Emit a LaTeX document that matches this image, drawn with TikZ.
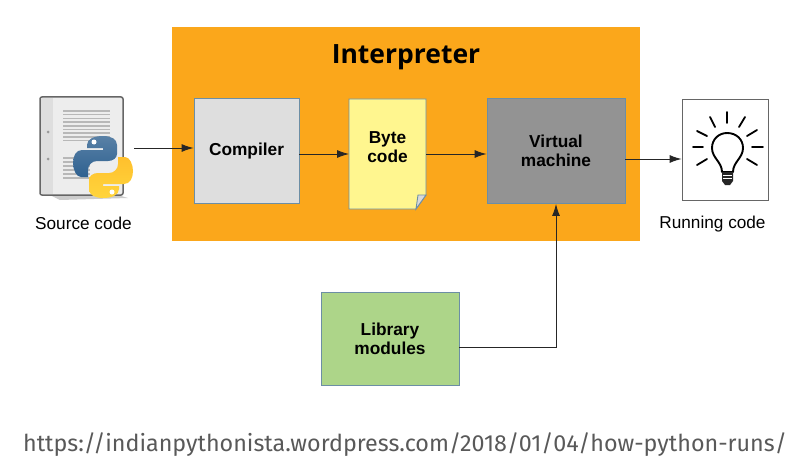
\documentclass[tikz,border=0pt]{standalone}
\usetikzlibrary{arrows.meta}
\usepackage{fontspec}
\setmainfont{Liberation Sans}
\newfontfamily\titlefont{Open Sans}
\newfontfamily\urlfont{Fira Sans}
\definecolor{interporange}{HTML}{FBA71B}
\definecolor{boxedge}{HTML}{6C8EA5}
\definecolor{compilergray}{HTML}{DEDEDE}
\definecolor{noteyellow}{HTML}{FFF68F}
\definecolor{vmgray}{HTML}{939393}
\definecolor{libgreen}{HTML}{ADD589}
\definecolor{pyblue}{HTML}{2F6190}
\definecolor{pyyellow}{HTML}{FFD53C}
\tikzset{
    blockbox/.style={draw=boxedge,line width=0.9pt,font=\fontsize{17.3}{19}\selectfont\bfseries,align=center,inner sep=0pt},
    caption/.style={font=\fontsize{17.2}{20}\selectfont},
    conn/.style={-{Latex[length=12pt,width=8pt]},line width=0.9pt,black!85},
    ray/.style={line width=1.8pt,line cap=round},
    docline/.style={line width=1.5pt,black!28},
    snake/.pic={
        \path [pic actions] (-16,-22) .. controls (-16,-28) and (-9,-31) .. (0,-31) .. controls (8,-31) and (14,-28) .. (14,-22) -- (14,-13) .. controls (14,-9) and (10,-6) .. (5,-6) -- (-6,-6) .. controls (-11,-6) and (-15,-2) .. (-15,3) -- (-15,10) -- (-22,10) .. controls (-27,10) and (-30,2) .. (-30,-4) .. controls (-30,-11) and (-27,-17) .. (-21,-17) -- (0,-17) -- (0,-19) -- (-16,-19) -- cycle;
        \fill [white] (-9,-25) circle (2.5pt);
    }
}
\begin{document}
\begin{tikzpicture}[x=1pt,y=-1pt]
    \useasboundingbox (0,0) rectangle (797,468);
    \fill [white] (0,0) rectangle (797,468);
    \node [fill=interporange,minimum width=468pt,minimum height=214pt,inner sep=0pt] (interp) at (406,134) {};
    \node [font=\titlefont\fontsize{26.5}{30}\selectfont\bfseries] (interptitle) at (406,57) {Interpreter};
    % source file icon
    \fill [black!20] (50,195) -- (118,195) -- (128,198) -- (60,200) -- cycle;
    \draw [draw=black!60,line width=1.5pt,rounded corners=2pt,fill=black!7] (40,97) rectangle (123,195);
    \fill [black!13] (41,98) rectangle (53,194);
    \foreach \y in {111,114.7,...,143} \draw [docline] (63,\y) -- (110,\y);
    \foreach \y in {158,162,...,178} \draw [docline] (63,\y) -- (90,\y);
    \fill [black!40] (48,132) circle (1.5pt) (48,159) circle (1.5pt);
    % python logo
    \pic [bottom color=pyblue,top color=pyblue!80!white] at (103,167) {snake};
    \pic [rotate=180,top color=pyyellow!75!orange,bottom color=pyyellow] at (103,167) {snake};
    \coordinate (source) at (134,148);
    \node [caption] (sourcelabel) at (83.5,223) {Source code};
    % boxes
    \node [blockbox,fill=compilergray,minimum width=105pt,minimum height=105pt] (compiler) at (246.5,151) {Compiler};
    \draw [draw=boxedge,line width=0.9pt,fill=noteyellow] (349,99) -- (426,99) -- (426,195) -- (416,209) -- (349,209) -- cycle;
    \draw [draw=boxedge,line width=0.9pt,fill=black!15] (426,195) -- (418,195) -- (416,209) -- cycle;
    \node [font=\fontsize{17.3}{19}\selectfont\bfseries,align=center,minimum width=77pt,minimum height=110pt,inner sep=0pt] (byte) at (387.5,147) {Byte\\code};
    \node [blockbox,fill=vmgray,minimum width=138pt,minimum height=105pt] (vm) at (556,151) {Virtual\\machine};
    \node [blockbox,fill=libgreen,minimum width=138pt,minimum height=93pt] (library) at (390,338.5) {Library\\modules};
    \node [draw=black!60,line width=0.9pt,fill=white,minimum width=86pt,minimum height=101pt,inner sep=0pt] (bulb) at (725,149.5) {};
    \foreach \a/\b/\c/\d in {727/112/727/123,693/147/703/147,752/147/763/147,710/117/715/127,745/117/739/127,697/131/707/136,757/130/747/136,697/165/707/159,757/165/747/159}
        \draw [ray] (\a,\b) -- (\c,\d);
    \draw [line width=1.9pt,line join=round] (722,172) .. controls (722,162) and (712,158) .. (712,148) .. controls (712,139) and (719,133) .. (727,133) .. controls (736,133) and (743,139) .. (743,148) .. controls (743,158) and (733,162) .. (733,172) -- cycle;
    \fill [black!85] (722,172) -- (733,172) -- (733,181) -- (730,185) -- (725,185) -- (722,181) -- cycle;
    \draw [white,line width=0.7pt] (723,175) -- (732,175) (723,178) -- (732,178);
    \node [caption] (bulblabel) at (712.5,224) {Running code};
    % connectors
    \coordinate (bytein) at (349,154);
    \coordinate (byteout) at (426,154);
    \coordinate (vmout) at (625,159);
    \coordinate (libout) at (459,347);
    \draw [conn] (source) -- (source -| compiler.west);
    \draw [conn] (bytein -| compiler.east) -- (bytein);
    \draw [conn] (byteout) -- (byteout -| vm.west);
    \draw [conn] (vmout) -- (vmout -| bulb.west);
    \draw [conn] (libout) -| (vm.south);
    \node [font=\urlfont\fontsize{23.3}{28}\selectfont,text=black!65,inner sep=0pt] (url) at (405,445) {https://indianpythonista.wordpress.com/2018/01/04/how-python-runs/};
\end{tikzpicture}
\end{document}
